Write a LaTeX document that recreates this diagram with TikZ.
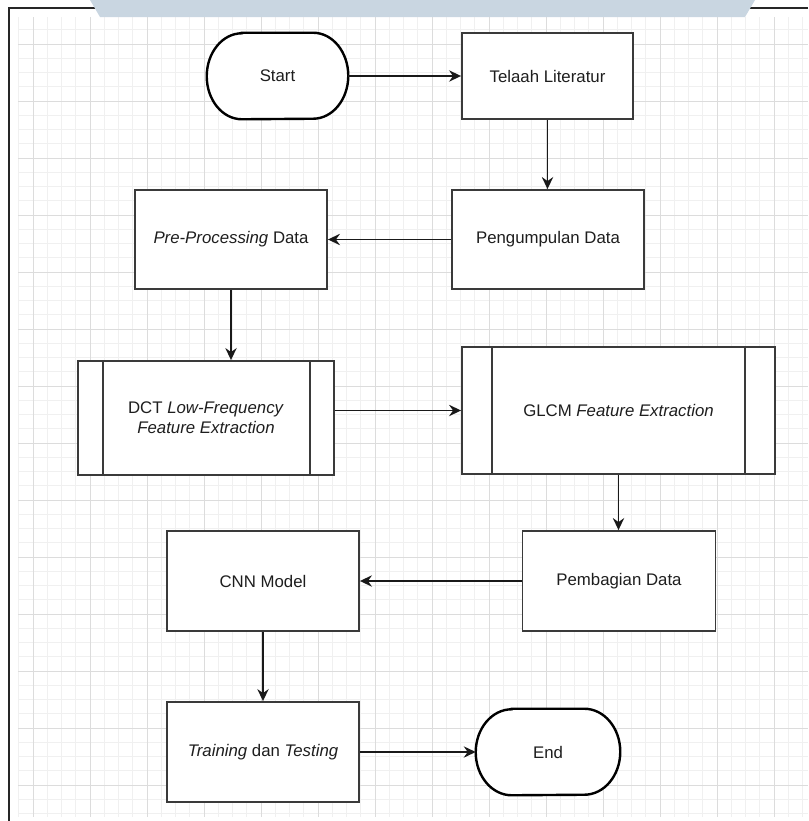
\documentclass[tikz,border=0pt]{standalone}
\usepackage{fontspec}
\setmainfont{Liberation Sans}
\usetikzlibrary{arrows.meta}
\definecolor{bandblue}{HTML}{C9D6E1}
\definecolor{gridminor}{HTML}{F0F0F0}
\definecolor{gridmajor}{HTML}{DCDCDC}
\definecolor{boxline}{HTML}{3A3A3A}
\definecolor{txt}{HTML}{1E1E1E}

\begin{document}
\begin{tikzpicture}[x=0.75pt, y=-0.75pt,
  every node/.style={font=\fontsize{12.6}{15}\selectfont, text=txt},
  proc/.style 2 args={draw=boxline, line width=1.4pt, fill=white, inner sep=0pt,
    minimum width=#1, minimum height=#2, align=center},
  term/.style 2 args={inner sep=0pt, minimum width=#1, minimum height=#2},
  termline/.style={draw=black, line width=1.8pt, fill=white},
  flow/.style={draw=black!90, line width=1.1pt,
    -{Stealth[length=9pt, width=8.5pt, inset=3pt]}}]
\useasboundingbox (0,0) rectangle (808,821);
% Fondo {{{
\fill[white] (0,0) rectangle (808,821);
\foreach \i in {0,...,55} \draw[gridminor, line width=0.75pt] (18.75+14.25*\i,17) -- (18.75+14.25*\i,817);
\foreach \i in {1,...,56} \draw[gridminor, line width=0.75pt] (18,15.5+14.25*\i) -- (808,15.5+14.25*\i);
\foreach \i in {0,...,13} \draw[gridmajor, line width=0.75pt] (33+57*\i,17) -- (33+57*\i,817);
\foreach \i in {0,...,13} \draw[gridmajor, line width=0.75pt] (18,44+57*\i) -- (808,44+57*\i);
\draw[black!85, line width=1.1pt] (808,8) -- (9,8) -- (9,821);
\fill[bandblue] (90,0) -- (755,0) -- (745,17) -- (100,17) -- cycle;
% }}}
% Nodos {{{
\node[term={105.75pt}{64.5pt}] (start) at (277.5,76) {};
\draw[termline] ([xshift=26.4pt]start.north west) -- ([xshift=-26.4pt]start.north east)
  arc[start angle=90, end angle=-90, x radius=26.4pt, y radius=32.25pt]
  -- ([xshift=26.4pt]start.south west)
  arc[start angle=270, end angle=90, x radius=26.4pt, y radius=32.25pt] -- cycle;
\node at (start) {Start};
\node[proc={128.25pt}{64.5pt}] (lit) at (547.5,76) {Telaah Literatur};
\node[proc={144pt}{74.25pt}] (kumpul) at (548,239.5) {Pengumpulan Data};
\node[proc={144pt}{74.25pt}] (prepro) at (231,239.5) {\textit{Pre-Processing} Data};
\node[proc={192pt}{85.5pt}] (dct) at (206,418) {DCT \textit{Low-Frequency}\\\textit{Feature Extraction}};
\draw[boxline, line width=1.4pt] ([xshift=19.5pt]dct.north west) -- ([xshift=19.5pt]dct.south west);
\draw[boxline, line width=1.4pt] ([xshift=-19pt]dct.north east) -- ([xshift=-19pt]dct.south east);
\node[proc={234.75pt}{95.25pt}] (glcm) at (618.5,410.5) {GLCM \textit{Feature Extraction}};
\draw[boxline, line width=1.4pt] ([xshift=23.25pt]glcm.north west) -- ([xshift=23.25pt]glcm.south west);
\draw[boxline, line width=1.4pt] ([xshift=-23.25pt]glcm.north east) -- ([xshift=-23.25pt]glcm.south east);
\node[proc={144.75pt}{75pt}] (bagi) at (619,581) {Pembagian Data};
\node[proc={144pt}{75pt}] (cnn) at (263,581) {CNN Model};
\node[proc={144pt}{75pt}] (latih) at (263,752) {\textit{Training} dan \textit{Testing}};
\node[term={108pt}{64.5pt}] (akhir) at (548,752) {};
\draw[termline] ([xshift=27pt]akhir.north west) -- ([xshift=-27pt]akhir.north east)
  arc[start angle=90, end angle=-90, x radius=27pt, y radius=32.25pt]
  -- ([xshift=27pt]akhir.south west)
  arc[start angle=270, end angle=90, x radius=27pt, y radius=32.25pt] -- cycle;
\node at (akhir) {End};
% }}}
% Flechas {{{
\draw[flow] (start.east) -- (lit.west);
\draw[flow] (lit.south) -- (lit.south |- kumpul.north);
\draw[flow] (kumpul.west) -- (prepro.east);
\draw[flow] (prepro.south) -- (prepro.south |- dct.north);
\draw[flow] (dct.east |- glcm.west) -- (glcm.west);
\draw[flow] (glcm.south) -- (glcm.south |- bagi.north);
\draw[flow] (bagi.west) -- (cnn.east);
\draw[flow] (cnn.south) -- (latih.north);
\draw[flow] (latih.east) -- (akhir.west);
% }}}
\end{tikzpicture}
\end{document}
